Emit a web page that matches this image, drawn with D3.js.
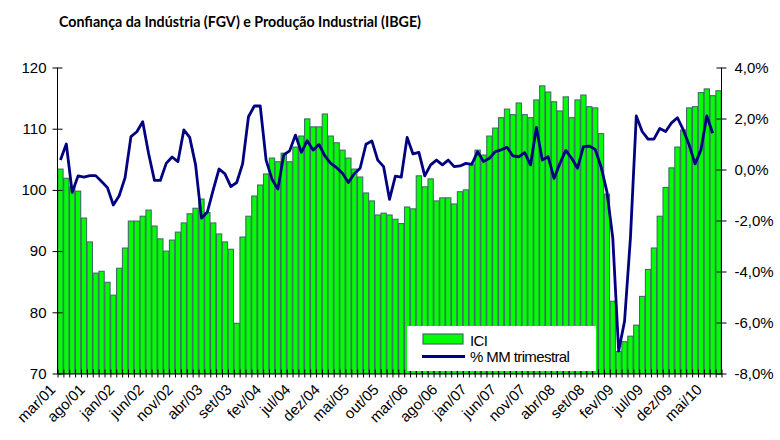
<!DOCTYPE html>
<html>
<head>
<meta charset="utf-8">
<script src="https://cdn.jsdelivr.net/npm/d3@7"></script>
<style>
  body { margin: 0; background: #fff; }
  svg { display: block; }
  .axis text { font-family: "Liberation Sans", Arial, sans-serif; font-size: 15px; fill: #000; }
  .axis path, .axis line { stroke: #000; }
</style>
</head>
<body>
<script>
// ICI (left axis) - monthly, mar/01 .. jul/10
const ici = [103.4,101.9,100.5,99.8,95.4,91.5,86.4,86.7,84.9,82.8,
  87.2,90.5,94.9,94.9,95.7,96.7,94.1,92.0,90.0,91.8,
  93.1,94.6,96.1,97.0,98.5,96.3,94.6,92.8,91.5,90.3,
  78.2,92.3,95.7,99.0,100.8,102.6,105.2,104.6,106.0,104.6,
  107.0,108.8,111.6,110.3,110.3,112.4,108.8,107.7,106.5,105.2,
  103.4,102.1,99.5,98.2,95.9,96.2,95.9,95.2,94.5,97.2,
  96.9,102.3,100.5,101.8,98.2,98.7,98.7,97.7,99.7,100.0,
  104.1,106.5,105.7,108.8,110.1,111.8,113.2,112.3,114.2,112.3,
  111.8,114.7,117.0,116.0,114.4,112.9,115.2,111.8,114.7,115.5,
  113.6,113.4,109.2,99.3,81.8,73.6,75.2,76.1,77.9,82.6,
  87.0,90.5,95.7,100.4,103.6,107.0,109.8,113.4,113.6,115.9,
  116.5,115.4,116.2];

// % MM trimestral (right axis), last month missing
const mm = [0.37,1.0,-0.9,-0.25,-0.30,-0.24,-0.24,-0.47,-0.71,-1.39,
  -1.03,-0.32,1.29,1.48,1.87,0.63,-0.43,-0.43,0.24,0.49,
  0.31,1.55,1.26,0.18,-1.91,-1.67,-0.80,0.02,-0.17,-0.67,
  -0.51,0.22,2.07,2.49,2.49,0.37,-0.38,-0.77,0.57,0.73,
  1.35,0.67,1.13,0.76,0.98,0.53,0.24,0.07,-0.15,-0.51,
  -0.17,0.05,0.99,1.12,0.37,0.11,-1.17,-0.26,-0.30,1.26,
  0.61,0.67,-0.25,0.18,0.37,0.18,0.37,0.11,0.14,0.24,
  0.20,0.70,0.31,0.44,0.70,0.77,0.87,0.53,0.50,0.66,
  0.18,1.65,0.37,0.50,-0.35,0.24,0.75,0.44,0.05,0.90,
  0.92,0.79,0.11,-0.87,-2.69,-7.12,-5.95,-2.69,2.10,1.49,
  1.19,1.19,1.61,1.49,1.83,2.03,1.55,0.96,0.22,0.77,
  2.10,1.42];

// every 5th month gets a label
const tickLabels = ["mar/01","ago/01","jan/02","jun/02","nov/02","abr/03","set/03",
  "fev/04","jul/04","dez/04","mai/05","out/05","mar/06","ago/06","jan/07","jun/07",
  "nov/07","abr/08","set/08","fev/09","jul/09","dez/09","mai/10"];

const leftTicks = [70, 80, 90, 100, 110, 120];
const rightTicks = [-8, -6, -4, -2, 0, 2, 4];

const width = 780, height = 440;
const margin = {left: 57.5, right: 58.5, top: 67.5, bottom: 66.5};

const svg = d3.select("body").append("svg")
  .attr("width", width)
  .attr("height", height);

const idx = d3.range(ici.length);

const x = d3.scaleBand()
  .domain(idx)
  .range([margin.left, width - margin.right])
  .paddingInner(0.1)
  .paddingOuter(0.05);

const y = d3.scaleLinear().domain([70, 120]).range([height - margin.bottom, margin.top]);
const y2 = d3.scaleLinear().domain([-8, 4]).range([height - margin.bottom, margin.top]);

// title
svg.append("text")
  .attr("x", 59)
  .attr("y", 27)
  .attr("textLength", 362)
  .attr("lengthAdjust", "spacingAndGlyphs")
  .style("font-family", "Lato, 'Open Sans', sans-serif")
  .style("font-weight", "bold")
  .style("font-size", "16px")
  .text("Confiança da Indústria (FGV) e Produção Industrial (IBGE)");

// bars
svg.append("g")
  .selectAll("rect")
  .data(ici)
  .join("rect")
  .attr("x", (d, i) => x(i))
  .attr("width", x.bandwidth())
  .attr("y", d => y(d))
  .attr("height", d => y(70) - y(d))
  .attr("fill", "#00ff00")
  .attr("stroke", "#3f6d66")
  .attr("stroke-width", 1.1);

// line
const line = d3.line()
  .x((d, i) => x(i) + x.bandwidth() / 2)
  .y(d => y2(d));

svg.append("path")
  .datum(mm)
  .attr("d", line)
  .attr("fill", "none")
  .attr("stroke", "#000080")
  .attr("stroke-width", 2.8)
  .attr("stroke-linejoin", "round");

// left axis
const gl = svg.append("g")
  .attr("class", "axis")
  .attr("transform", `translate(${margin.left},0)`)
  .call(d3.axisLeft(y).tickValues(leftTicks).tickSize(5).tickSizeOuter(0).tickPadding(6));
gl.selectAll(".tick line").attr("x2", 5).attr("x1", -5);
gl.select(".domain").attr("d", `M0,${y(70)}V${y(120)}`);

// right axis
const gr = svg.append("g")
  .attr("class", "axis")
  .attr("transform", `translate(${width - margin.right},0)`)
  .call(d3.axisRight(y2).tickValues(rightTicks).tickSize(5).tickSizeOuter(0).tickPadding(8)
    .tickFormat(d => d3.format(".1f")(d).replace(".", ",").replace("−", "-") + "%"));
gr.selectAll(".tick line").attr("x1", -5).attr("x2", 5);
gr.select(".domain").attr("d", `M0,${y2(-8)}V${y2(4)}`);

// bottom axis: ticks between months
const bx = d3.scaleLinear().domain([0, ici.length]).range([margin.left, width - margin.right]);
const gb = svg.append("g")
  .attr("class", "axis")
  .attr("transform", `translate(0,${height - margin.bottom})`)
  .call(d3.axisBottom(bx).tickValues(d3.range(ici.length + 1)).tickSize(4).tickSizeOuter(0).tickFormat(""));
gb.selectAll(".tick line").attr("y1", -4).attr("y2", 4);

// month labels
svg.append("g")
  .attr("class", "axis")
  .selectAll("text")
  .data(tickLabels)
  .join("text")
  .attr("transform", (d, i) => `translate(${x(i * 5) + x.bandwidth() / 2 - 4},${height - margin.bottom + 17}) rotate(-45)`)
  .attr("text-anchor", "end")
  .text(d => d);

// legend
const lg = svg.append("g").attr("transform", "translate(407,326)");
lg.append("rect").attr("width", 189).attr("height", 45).attr("fill", "#fff");
lg.append("rect").attr("x", 16).attr("y", 8).attr("width", 40).attr("height", 10)
  .attr("fill", "#00ff00").attr("stroke", "#3f6d66").attr("stroke-width", 1.2);
lg.append("line").attr("x1", 15).attr("x2", 58).attr("y1", 30.5).attr("y2", 30.5)
  .attr("stroke", "#000080").attr("stroke-width", 2.8);
lg.append("text").attr("x", 63).attr("y", 20).attr("class", "lgt").text("ICI");
lg.append("text").attr("x", 63).attr("y", 36).attr("class", "lgt").text("% MM trimestral");
lg.selectAll(".lgt")
  .style("font-family", "'Liberation Sans', Arial, sans-serif")
  .style("font-size", "15px")
  .style("letter-spacing", "-0.6px");
</script>
</body>
</html>
